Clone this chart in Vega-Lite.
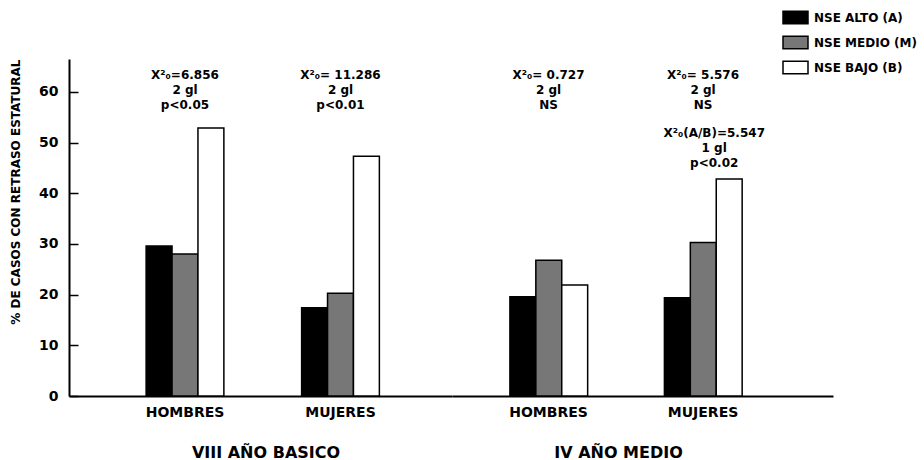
{
  "$schema": "https://vega.github.io/schema/vega-lite/v6.json",
  "autosize": {"type": "pad"},
  "padding": {"left": 9, "top": 4, "right": 0, "bottom": 0},
  "background": "white",
  "spacing": 0,
  "datasets": {
    "barras": [
      {"nivel": "VIII AÑO BASICO", "sexo": "HOMBRES", "nse": "NSE ALTO (A)", "pct": 29.6},
      {"nivel": "VIII AÑO BASICO", "sexo": "HOMBRES", "nse": "NSE MEDIO (M)", "pct": 28.0},
      {"nivel": "VIII AÑO BASICO", "sexo": "HOMBRES", "nse": "NSE BAJO (B)", "pct": 52.9},
      {"nivel": "VIII AÑO BASICO", "sexo": "MUJERES", "nse": "NSE ALTO (A)", "pct": 17.4},
      {"nivel": "VIII AÑO BASICO", "sexo": "MUJERES", "nse": "NSE MEDIO (M)", "pct": 20.3},
      {"nivel": "VIII AÑO BASICO", "sexo": "MUJERES", "nse": "NSE BAJO (B)", "pct": 47.3},
      {"nivel": "IV AÑO MEDIO", "sexo": "HOMBRES", "nse": "NSE ALTO (A)", "pct": 19.6},
      {"nivel": "IV AÑO MEDIO", "sexo": "HOMBRES", "nse": "NSE MEDIO (M)", "pct": 26.8},
      {"nivel": "IV AÑO MEDIO", "sexo": "HOMBRES", "nse": "NSE BAJO (B)", "pct": 21.9},
      {"nivel": "IV AÑO MEDIO", "sexo": "MUJERES", "nse": "NSE ALTO (A)", "pct": 19.4},
      {"nivel": "IV AÑO MEDIO", "sexo": "MUJERES", "nse": "NSE MEDIO (M)", "pct": 30.3},
      {"nivel": "IV AÑO MEDIO", "sexo": "MUJERES", "nse": "NSE BAJO (B)", "pct": 42.8, "nota": "X²₀(A/B)=5.547\n1 gl\np<0.02"}
    ],
    "pruebas": [
      {"nivel": "VIII AÑO BASICO", "sexo": "HOMBRES", "texto": "X²₀=6.856\n2 gl\np<0.05"},
      {"nivel": "VIII AÑO BASICO", "sexo": "MUJERES", "texto": "X²₀= 11.286\n2 gl\np<0.01"},
      {"nivel": "IV AÑO MEDIO", "sexo": "HOMBRES", "texto": "X²₀= 0.727\n2 gl\nNS"},
      {"nivel": "IV AÑO MEDIO", "sexo": "MUJERES", "texto": "X²₀= 5.576\n2 gl\nNS"}
    ]
  },
  "hconcat": [
    {
      "width": 383,
      "height": 337,
      "layer": [
        {
          "data": {"name": "barras"},
          "transform": [{"filter": "datum.nivel === 'VIII AÑO BASICO'"}],
          "mark": {"type": "bar", "stroke": "black", "strokeWidth": 1.5},
          "encoding": {
            "x": {
              "field": "sexo", "type": "nominal",
              "scale": {"domain": ["HOMBRES", "MUJERES"], "paddingInner": 0.5, "paddingOuter": 0.4815, "align": 0.515},
              "axis": {
                "title": "VIII AÑO BASICO", "titleX": 196.5, "labelAngle": 0, "ticks": false,
                "domainColor": "black", "domainWidth": 2,
                "labelFont": "DejaVu Sans", "labelFontWeight": "bold", "labelFontSize": 14, "labelColor": "black", "labelPadding": 9,
                "titleFont": "DejaVu Sans", "titleFontWeight": "bold", "titleFontSize": 16, "titleColor": "black", "titlePadding": 25
              }
            },
            "xOffset": {
              "field": "nse", "type": "nominal",
              "scale": {"domain": ["NSE ALTO (A)", "NSE MEDIO (M)", "NSE BAJO (B)"], "paddingInner": 0, "paddingOuter": 0}
            },
            "y": {
              "field": "pct", "type": "quantitative",
              "scale": {"domain": [0, 66.5], "nice": false},
              "axis": {
                "values": [0, 10, 20, 30, 40, 50, 60], "grid": false,
                "title": "% DE CASOS CON RETRASO ESTATURAL",
                "domainColor": "black", "domainWidth": 2,
                "tickColor": "black", "tickWidth": 1.5, "tickSize": -9,
                "labelFont": "DejaVu Sans", "labelFontWeight": "bold", "labelFontSize": 14, "labelColor": "black", "labelPadding": 20,
                "titleFont": "DejaVu Sans", "titleFontWeight": "bold", "titleFontSize": 12, "titleColor": "black",
                "titleAnchor": "end", "titlePadding": 16
              }
            },
            "fill": {
              "field": "nse", "type": "nominal",
              "scale": {"domain": ["NSE ALTO (A)", "NSE MEDIO (M)", "NSE BAJO (B)"], "range": ["#000000", "#777777", "#ffffff"]},
              "legend": {
                "orient": "none", "legendX": 713, "legendY": -55, "title": null,
                "symbolType": "M-1,-0.5H1V0.5H-1Z", "symbolSize": 625,
                "symbolStrokeColor": "black", "symbolStrokeWidth": 1.5,
                "labelFont": "DejaVu Sans", "labelFontWeight": "bold", "labelFontSize": 12, "labelColor": "black",
                "rowPadding": 2, "labelOffset": 5
              }
            }
          }
        },
        {
          "data": {"name": "pruebas"},
          "transform": [{"filter": "datum.nivel === 'VIII AÑO BASICO'"}],
          "mark": {"type": "text", "lineBreak": "\n", "lineHeight": 15, "baseline": "middle", "font": "DejaVu Sans", "fontWeight": "bold", "fontSize": 12, "color": "black"},
          "encoding": {
            "x": {"field": "sexo", "type": "nominal"},
            "y": {"datum": 63.3},
            "text": {"field": "texto", "type": "nominal"}
          }
        }
      ]
    },
    {
      "width": 381,
      "height": 337,
      "layer": [
        {
          "data": {"name": "barras"},
          "transform": [{"filter": "datum.nivel === 'IV AÑO MEDIO'"}],
          "mark": {"type": "bar", "stroke": "black", "strokeWidth": 1.5},
          "encoding": {
            "x": {
              "field": "sexo", "type": "nominal",
              "scale": {"domain": ["HOMBRES", "MUJERES"], "paddingInner": 0.5, "paddingOuter": 0.483, "align": 0.388},
              "axis": {
                "title": "IV AÑO MEDIO", "titleX": 166, "labelAngle": 0, "ticks": false,
                "domainColor": "black", "domainWidth": 2,
                "labelFont": "DejaVu Sans", "labelFontWeight": "bold", "labelFontSize": 14, "labelColor": "black", "labelPadding": 9,
                "titleFont": "DejaVu Sans", "titleFontWeight": "bold", "titleFontSize": 16, "titleColor": "black", "titlePadding": 25
              }
            },
            "xOffset": {
              "field": "nse", "type": "nominal",
              "scale": {"domain": ["NSE ALTO (A)", "NSE MEDIO (M)", "NSE BAJO (B)"], "paddingInner": 0, "paddingOuter": 0}
            },
            "y": {
              "field": "pct", "type": "quantitative",
              "scale": {"domain": [0, 66.5], "nice": false},
              "axis": null
            },
            "fill": {
              "field": "nse", "type": "nominal",
              "scale": {"domain": ["NSE ALTO (A)", "NSE MEDIO (M)", "NSE BAJO (B)"], "range": ["#000000", "#777777", "#ffffff"]},
              "legend": {
                "orient": "none", "legendX": 713, "legendY": -55, "title": null,
                "symbolType": "M-1,-0.5H1V0.5H-1Z", "symbolSize": 625,
                "symbolStrokeColor": "black", "symbolStrokeWidth": 1.5,
                "labelFont": "DejaVu Sans", "labelFontWeight": "bold", "labelFontSize": 12, "labelColor": "black",
                "rowPadding": 2, "labelOffset": 5
              }
            }
          }
        },
        {
          "data": {"name": "barras"},
          "transform": [{"filter": "datum.nivel === 'IV AÑO MEDIO' && isValid(datum.nota)"}],
          "mark": {"type": "text", "lineBreak": "\n", "lineHeight": 15, "baseline": "middle", "dy": -46, "dx": -15, "font": "DejaVu Sans", "fontWeight": "bold", "fontSize": 12, "color": "black"},
          "encoding": {
            "x": {"field": "sexo", "type": "nominal"},
            "xOffset": {"field": "nse", "type": "nominal"},
            "y": {"field": "pct", "type": "quantitative"},
            "text": {"field": "nota", "type": "nominal"}
          }
        },
        {
          "data": {"name": "pruebas"},
          "transform": [{"filter": "datum.nivel === 'IV AÑO MEDIO'"}],
          "mark": {"type": "text", "lineBreak": "\n", "lineHeight": 15, "baseline": "middle", "font": "DejaVu Sans", "fontWeight": "bold", "fontSize": 12, "color": "black"},
          "encoding": {
            "x": {"field": "sexo", "type": "nominal"},
            "y": {"datum": 63.3},
            "text": {"field": "texto", "type": "nominal"}
          }
        }
      ]
    }
  ],
  "config": {
    "view": {"stroke": null},
    "font": "DejaVu Sans"
  }
}
